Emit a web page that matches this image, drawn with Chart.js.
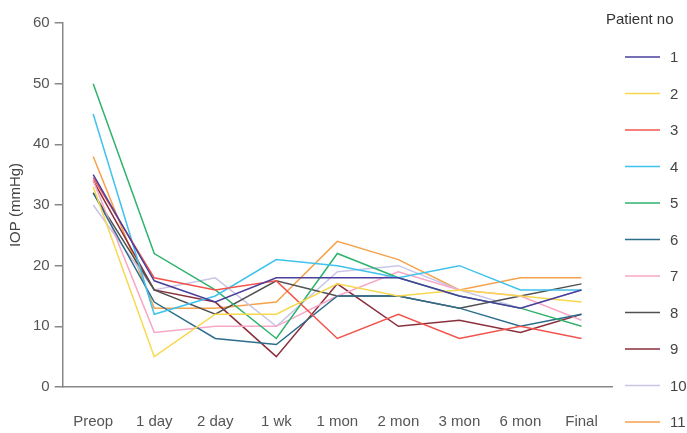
<!DOCTYPE html>
<html>
<head>
<meta charset="utf-8">
<script src="https://cdn.jsdelivr.net/npm/chart.js@4"></script>
<style>
  html, body { margin: 0; padding: 0; background: #fff; }
  #wrap { width: 687px; height: 433px; position: relative; }
</style>
</head>
<body>
<div id="wrap"><canvas id="chart"></canvas></div>
<script>
// time points
const visits = ['Preop', '1 day', '2 day', '1 wk', '1 mon', '2 mon', '3 mon', '6 mon', 'Final'];
const yTicks = [0, 10, 20, 30, 40, 50, 60];

// IOP per patient
const p1 = [35, 17.5, 14, 18, 18, 18, 15, 13, 16];
const p2 = [33, 5, 12, 12, 17, 15, 16, 15, 14];
const p3 = [34.5, 18, 16, 17.5, 8, 12, 8, 10, 8];
const p4 = [45, 12, 15, 21, 20, 18, 20, 16, 16];
const p5 = [50, 22, 16, 8, 22, 18, 15, 13, 10];
const p6 = [32, 14, 8, 7, 15, 15, 13, 10, 12];
const p7 = [34, 9, 10, 10, 15, 19, 16, 15, 11];
const p8 = [32, 16, 12, 17.5, 15, 15, 13, 15, 17];
const p9 = [34, 16, 14, 5, 17, 10, 11, 9, 12];
const p10 = [30, 16, 18, 10, 19, 20, 16, 13, 16];
const p11 = [38, 13, 13, 14, 24, 21, 16, 18, 18];

const patients = ['1', '2', '3', '4', '5', '6', '7', '8', '9', '10', '11'];
const series = [p1, p2, p3, p4, p5, p6, p7, p8, p9, p10, p11];
const colors = ['#4a3f9c', '#f7d84e', '#f2544c', '#3fc2ec', '#2fb26c', '#2d6d8c',
                '#f7a8c6', '#505050', '#8a2f3c', '#c9c5e8', '#f5a24c'];

const FONT = '"Liberation Sans", Arial, sans-serif';

// legend drawn on the right like the original
const sideLegend = {
  id: 'sideLegend',
  afterDraw(chart) {
    const ctx = chart.ctx;
    ctx.save();
    ctx.fillStyle = '#333';
    ctx.font = '15px ' + FONT;
    ctx.textBaseline = 'middle';
    ctx.textAlign = 'left';
    ctx.fillText('Patient no', 606, 20);
    patients.forEach((name, i) => {
      const y = 57 + i * 36.5;
      ctx.strokeStyle = colors[i];
      ctx.lineWidth = 1.5;
      ctx.beginPath();
      ctx.moveTo(625, y);
      ctx.lineTo(660, y);
      ctx.stroke();
      ctx.fillStyle = '#444';
      ctx.fillText(name, 670, y + 1);
    });
    ctx.restore();
  }
};

new Chart(document.getElementById('chart'), {
  type: 'line',
  data: {
    labels: visits,
    datasets: series.map((vals, i) => ({
      label: patients[i],
      data: vals,
      borderColor: colors[i],
      borderWidth: 1.5,
      pointRadius: 0,
      fill: false,
      tension: 0,
    })),
  },
  options: {
    responsive: true,
    maintainAspectRatio: false,
    animation: false,
    layout: { padding: { top: 23, right: 75, left: 7, bottom: 0 } },
    plugins: {
      legend: { display: false },
      tooltip: { enabled: false },
    },
    scales: {
      x: {
        offset: true,
        afterFit: (axis) => { axis.height = 46; },
        grid: { display: false, drawTicks: false },
        border: { color: '#888', width: 1.5 },
        ticks: {
          color: '#555',
          padding: 26,
          font: { size: 15, family: FONT },
        },
      },
      y: {
        min: 0,
        max: 60,
        afterBuildTicks: (axis) => { axis.ticks = yTicks.map(v => ({ value: v })); },
        grid: { drawOnChartArea: false, color: '#888', tickLength: 8, lineWidth: 1.5 },
        border: { color: '#888', width: 1.5 },
        ticks: {
          color: '#555',
          padding: 5,
          font: { size: 15, family: FONT },
        },
        title: {
          display: true,
          text: 'IOP (mmHg)',
          color: '#444',
          padding: { top: 0, bottom: 3 },
          font: { size: 15, family: FONT },
        },
      },
    },
  },
  plugins: [sideLegend],
});
</script>
</body>
</html>
